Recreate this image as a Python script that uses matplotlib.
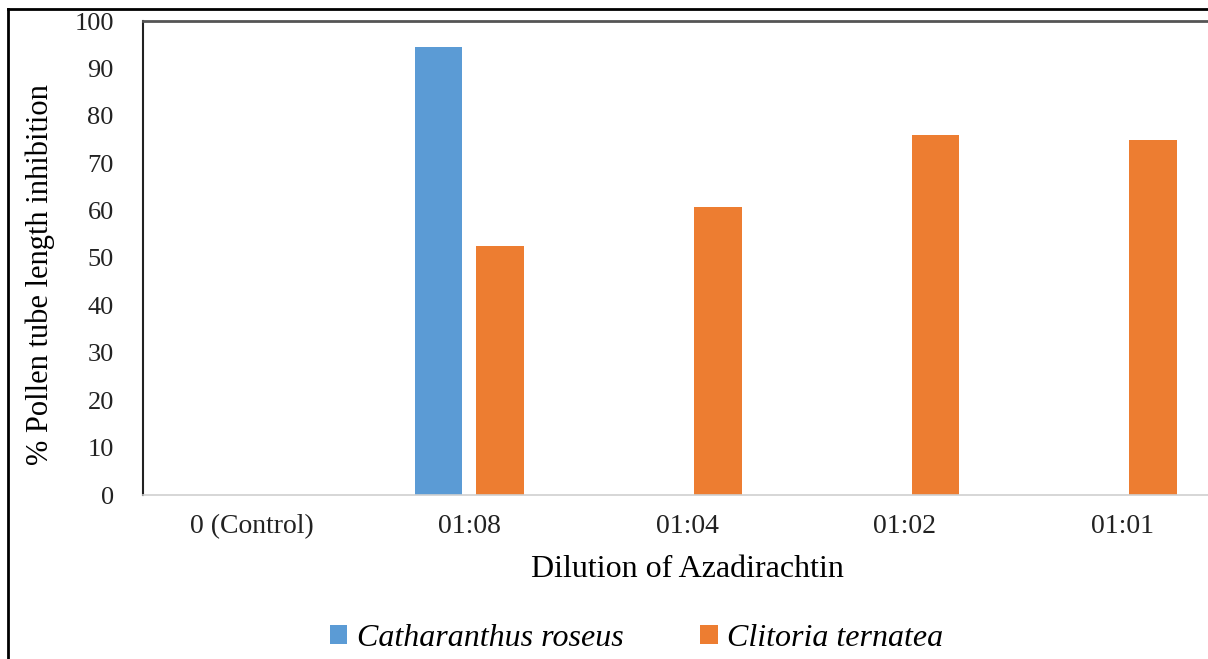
import matplotlib
matplotlib.use("Agg")
import matplotlib.pyplot as plt
from matplotlib.lines import Line2D
import numpy as np

# Datos
diluciones = ["0 (Control)", "01:08", "01:04", "01:02", "01:01"]
catharanthus = [0, 94.5, 0, 0, 0]
clitoria = [0, 52.5, 60.8, 76.0, 74.8]
series = ["Catharanthus roseus", "Clitoria ternatea"]
colores = ["#5b9bd5", "#ed7d31"]

plt.rcParams["font.family"] = ["Liberation Serif", "DejaVu Serif"]

W, H = 1208, 659
fig = plt.figure(figsize=(W / 100, H / 100), dpi=100)
ax = fig.add_axes([143 / W, 1 - 495 / H, (1231 - 143) / W, (495 - 21) / H])

x = np.arange(len(diluciones))
ancho = 0.22
ax.bar(x - 0.142, catharanthus, ancho, color=colores[0], label=series[0])
ax.bar(x + 0.142, clitoria, ancho, color=colores[1], label=series[1])

ax.set_xlim(-0.5, len(diluciones) - 0.5)
ax.set_ylim(0, 100)
ax.set_yticks(range(0, 101, 10))
ax.set_xticks(x)
ax.set_xticklabels(diluciones)
ax.tick_params(axis="both", length=0, colors="#222222")
ax.tick_params(axis="y", pad=21, labelsize=19)
ax.tick_params(axis="x", pad=14, labelsize=20)

ax.spines["right"].set_visible(False)
ax.spines["top"].set_color("#555555")
ax.spines["top"].set_linewidth(2)
ax.spines["left"].set_color("#222222")
ax.spines["left"].set_linewidth(1.5)
ax.spines["bottom"].set_color("#d0d0d0")
ax.spines["bottom"].set_linewidth(1.2)

ax.set_xlabel("Dilution of Azadirachtin", fontsize=23, labelpad=11)
fig.text(40 / W, 1 - 275 / H, "% Pollen tube length inhibition", rotation=90,
         fontsize=22, ha="center", va="center")

fig.legend(loc="center", bbox_to_anchor=(0.527, 1 - 638 / H), ncol=2, frameon=False,
           prop={"style": "italic", "size": 23}, handlelength=0.55, handleheight=0.55,
           handletextpad=0.3, columnspacing=2.4)

# Marco exterior de la figura (recortado a la derecha y abajo)
fig.add_artist(Line2D([8 / W, 8 / W], [0, 1 - 9 / H], color="black", lw=2,
                      transform=fig.transFigure))
fig.add_artist(Line2D([8 / W, 1], [1 - 9 / H, 1 - 9 / H], color="black", lw=2,
                      transform=fig.transFigure))

fig.savefig("out.png", dpi=100)
